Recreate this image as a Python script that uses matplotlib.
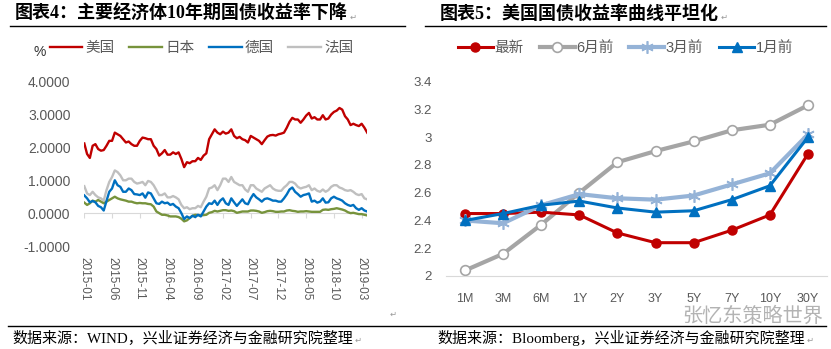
import numpy as np
import matplotlib
matplotlib.use('Agg')
import matplotlib.pyplot as plt
from matplotlib.lines import Line2D

plt.rcParams['font.family'] = ['Liberation Sans', 'Noto Sans CJK SC', 'DejaVu Sans']

# ---- left chart: 10y government bond yields, semi-monthly readings ----
date_labels = ['2015-01', '2015-06', '2015-11', '2016-04', '2016-09', '2017-02',
               '2017-07', '2017-12', '2018-05', '2018-10', '2019-03']

us = [2.12, 1.80, 1.68, 2.05, 2.10, 1.95, 1.90, 1.92, 2.05, 2.20, 2.20, 2.45,
      2.40, 2.35, 2.25, 2.15, 2.18, 2.10, 2.05, 2.05, 2.20, 2.30, 2.28, 2.25,
      2.25, 2.05, 1.95, 1.75, 1.82, 1.92, 1.78, 1.78, 1.85, 1.80, 1.85, 1.65,
      1.40, 1.55, 1.52, 1.58, 1.58, 1.68, 1.62, 1.75, 1.82, 2.25, 2.40, 2.55,
      2.45, 2.40, 2.48, 2.42, 2.45, 2.55, 2.35, 2.28, 2.32, 2.25, 2.22, 2.15,
      2.35, 2.30, 2.25, 2.20, 2.10, 2.22, 2.33, 2.37, 2.38, 2.36, 2.40, 2.42,
      2.45, 2.60, 2.78, 2.90, 2.85, 2.85, 2.75, 2.85, 2.97, 3.05, 2.88, 2.92,
      2.85, 2.85, 2.98, 2.85, 2.88, 3.00, 3.08, 3.12, 3.20, 3.15, 2.95, 2.85,
      2.68, 2.72, 2.68, 2.65, 2.72, 2.60, 2.45]

japan = [0.32, 0.25, 0.30, 0.38, 0.35, 0.40, 0.35, 0.30, 0.35, 0.40, 0.45, 0.50,
         0.45, 0.42, 0.40, 0.38, 0.35, 0.35, 0.32, 0.30, 0.31, 0.30, 0.30, 0.28,
         0.27, 0.20, 0.05, 0.00, -0.05, -0.05, -0.07, -0.10, -0.10, -0.10, -0.12, -0.17,
         -0.25, -0.22, -0.15, -0.08, -0.05, -0.06, -0.07, -0.06, -0.05, 0.01, 0.03, 0.07,
         0.05, 0.07, 0.09, 0.09, 0.07, 0.08, 0.06, 0.01, 0.03, 0.05, 0.05, 0.05,
         0.08, 0.08, 0.07, 0.05, 0.01, 0.03, 0.06, 0.07, 0.06, 0.04, 0.04, 0.05,
         0.05, 0.08, 0.09, 0.07, 0.06, 0.04, 0.05, 0.05, 0.06, 0.05, 0.04, 0.04,
         0.04, 0.04, 0.10, 0.11, 0.10, 0.12, 0.13, 0.15, 0.13, 0.11, 0.08, 0.03,
         0.00, 0.01, -0.01, -0.03, -0.03, -0.05, -0.07]

germany = [0.54, 0.45, 0.33, 0.37, 0.33, 0.22, 0.18, 0.08, 0.37, 0.65, 0.75, 1.00,
           0.85, 0.80, 0.65, 0.65, 0.75, 0.70, 0.58, 0.57, 0.55, 0.60, 0.47, 0.63,
           0.60, 0.45, 0.30, 0.28, 0.35, 0.30, 0.32, 0.25, 0.28, 0.20, 0.15, 0.00,
           -0.18, -0.10, -0.15, -0.08, -0.12, -0.05, -0.10, 0.05, 0.20, 0.30, 0.28, 0.38,
           0.25, 0.38, 0.45, 0.30, 0.25, 0.45, 0.33, 0.22, 0.32, 0.42, 0.30, 0.27,
           0.45, 0.58, 0.48, 0.42, 0.35, 0.43, 0.45, 0.42, 0.38, 0.38, 0.35, 0.35,
           0.45, 0.57, 0.72, 0.78, 0.65, 0.58, 0.50, 0.55, 0.57, 0.60, 0.35, 0.38,
           0.32, 0.35, 0.45, 0.32, 0.33, 0.45, 0.50, 0.45, 0.42, 0.38, 0.30, 0.25,
           0.22, 0.25, 0.15, 0.10, 0.15, 0.08, 0.05]

france = [0.82, 0.60, 0.55, 0.65, 0.55, 0.48, 0.45, 0.38, 0.70, 0.95, 1.10, 1.30,
          1.25, 1.15, 1.00, 1.00, 1.05, 1.05, 0.95, 0.90, 0.92, 0.95, 0.85, 0.98,
          0.95, 0.85, 0.70, 0.55, 0.55, 0.60, 0.48, 0.48, 0.52, 0.48, 0.42, 0.25,
          0.15, 0.18, 0.12, 0.15, 0.15, 0.22, 0.18, 0.35, 0.50, 0.75, 0.78, 0.85,
          0.70, 0.85, 1.05, 1.05, 0.95, 1.10, 0.95, 0.90, 0.85, 0.85, 0.72, 0.65,
          0.85, 0.85, 0.75, 0.70, 0.65, 0.75, 0.80, 0.85, 0.75, 0.70, 0.68, 0.68,
          0.78, 0.85, 0.95, 0.95, 0.90, 0.80, 0.75, 0.78, 0.80, 0.85, 0.70, 0.75,
          0.68, 0.65, 0.72, 0.65, 0.70, 0.80, 0.85, 0.85, 0.78, 0.75, 0.70, 0.68,
          0.70, 0.65, 0.58, 0.55, 0.58, 0.45, 0.42]

# ---- right chart: US treasury curve ----
tenors = ['1M', '3M', '6M', '1Y', '2Y', '3Y', '5Y', '7Y', '10Y', '30Y']
latest = [2.45, 2.45, 2.46, 2.44, 2.31, 2.24, 2.24, 2.33, 2.44, 2.88]
m6_ago = [2.04, 2.16, 2.37, 2.60, 2.82, 2.90, 2.97, 3.05, 3.09, 3.23]
m3_ago = [2.40, 2.38, 2.51, 2.59, 2.56, 2.55, 2.58, 2.66, 2.74, 3.02]
m1_ago = [2.40, 2.45, 2.51, 2.54, 2.49, 2.46, 2.47, 2.55, 2.65, 3.00]

W, H = 831, 349
fig = plt.figure(figsize=(W / 100, H / 100), dpi=100)


def fx(px):
    return px / W


def fy(px):
    return 1 - px / H


grey_txt = '#595959'

# ---------- left chart ----------
ax1 = fig.add_axes([fx(84.3), fy(246), fx(367.2 - 84.3), (246 - 81.7) / H])
x = np.arange(len(us))
ax1.plot(x, france, color='#BFBFBF', lw=1.7, label='法国', zorder=2)
ax1.plot(x, japan, color='#77933C', lw=1.7, label='日本', zorder=3)
ax1.plot(x, germany, color='#0070C0', lw=1.7, label='德国', zorder=4)
ax1.plot(x, us, color='#C00000', lw=1.7, label='美国', zorder=5)
ax1.set_xlim(0, len(us) - 1)
ax1.set_ylim(-1, 4)
xt = np.arange(0, len(date_labels) * 10, 10)
ax1.axhline(0, color='#D9D9D9', lw=0.8, zorder=1)
ax1.vlines(xt, -0.15, 0, color='#D9D9D9', lw=0.8, zorder=1)
ax1.set_xticks(xt)
ax1.set_xticklabels(date_labels, rotation=-90, fontsize=8.5, color=grey_txt)
ax1.set_yticks([-1, 0, 1, 2, 3, 4])
ax1.set_yticklabels(['%.4f' % v for v in [-1, 0, 1, 2, 3, 4]], fontsize=10, color=grey_txt)
ax1.tick_params(axis='both', length=0)
ax1.tick_params(axis='y', pad=10)
ax1.tick_params(axis='x', pad=8)
for s in ax1.spines.values():
    s.set_visible(False)

h, l = ax1.get_legend_handles_labels()
order = [3, 1, 2, 0]
fig.legend([h[i] for i in order], [l[i] for i in order], loc='center',
           bbox_to_anchor=(fx(201.5), fy(48)), ncol=4, frameon=False, fontsize=10.5,
           handlelength=2.25, handletextpad=0.2, columnspacing=1.0, borderpad=0,
           labelcolor=grey_txt)
fig.text(fx(40), fy(52), '%', ha='center', va='center', fontsize=10, color='#333333')

# ---------- right chart ----------
ax2 = fig.add_axes([fx(446), fy(276), fx(827 - 446), (276 - 81.7) / H])
xc = np.arange(len(tenors))
ax2.plot(xc, latest, color='#C00000', lw=2.2, marker='o', ms=6.5, label='最新', zorder=3)
ax2.plot(xc, m6_ago, color='#A5A5A5', lw=3, marker='o', ms=7, mfc='white',
         mec='#A5A5A5', mew=1.2, label='6月前', zorder=2)
ax2.plot(xc, m3_ago, color='#95B3D7', lw=3, marker=(6, 2, 0), ms=9, mew=1.2,
         label='3月前', zorder=4)
ax2.plot(xc, m1_ago, color='#0070C0', lw=2.2, marker='^', ms=7, label='1月前', zorder=5)
ax2.set_xlim(-0.5, len(tenors) - 0.5)
ax2.set_ylim(2, 3.4)
ax2.set_xticks(xc)
ax2.set_xticklabels(tenors, fontsize=9, color=grey_txt)
yt = [2, 2.2, 2.4, 2.6, 2.8, 3, 3.2, 3.4]
ax2.set_yticks(yt)
ax2.set_yticklabels(['%g' % v for v in yt], fontsize=9.5, color=grey_txt)
ax2.tick_params(axis='both', length=0)
ax2.tick_params(axis='y', pad=10)
ax2.tick_params(axis='x', pad=12)
for k, s in ax2.spines.items():
    s.set_visible(k == 'bottom')
ax2.spines['bottom'].set_color('#D9D9D9')

fig.legend(*ax2.get_legend_handles_labels(), loc='center',
           bbox_to_anchor=(fx(625.5), fy(48)), ncol=4, frameon=False, fontsize=10.5,
           handlelength=2.4, handletextpad=0.1, columnspacing=1.1, borderpad=0,
           labelcolor=grey_txt)

# ---------- titles, rules, sources ----------
title_font = ['Liberation Serif', 'Noto Sans CJK SC']
mark_font = ['DejaVu Sans']
t1 = fig.text(fx(15), fy(14), '图表4：主要经济体10年期国债收益率下降', fontsize=13,
              fontweight='bold', family=title_font, va='center', ha='left')
t2 = fig.text(fx(440), fy(14), '图表5：美国国债收益率曲线平坦化', fontsize=13,
              fontweight='bold', family=title_font, va='center', ha='left')
fig.add_artist(Line2D([fx(10), fx(405)], [fy(26), fy(26)], color='black', lw=1))
fig.add_artist(Line2D([fx(425), fx(826)], [fy(26), fy(26)], color='black', lw=1))
fig.add_artist(Line2D([fx(8), fx(826)], [fy(326), fy(326)], color='black', lw=1))

s1 = fig.text(fx(12), fy(338), '数据来源：WIND，兴业证券经济与金融研究院整理', fontsize=10.8,
              family=title_font, va='center', ha='left')
s2 = fig.text(fx(437), fy(338), '数据来源：Bloomberg，兴业证券经济与金融研究院整理', fontsize=10.8,
              family=title_font, va='center', ha='left')

# paragraph marks after text blocks
fig.canvas.draw()
rend = fig.canvas.get_renderer()
for t, dy in [(t1, 3), (t2, 3), (s1, 2), (s2, 2)]:
    bb = t.get_window_extent(rend)
    fig.text((bb.x1 + 2) / W, (bb.y0 + bb.y1) / 2 / H - dy / H, '\u21b5', fontsize=6,
             color='#999999', family=mark_font, va='center', ha='left')
fig.text(fx(390), fy(314), '\u21b5', fontsize=6, color='#999999', family=mark_font,
         va='center', ha='left')

fig.text(fx(682), fy(316), '张忆东策略世界', fontsize=14.5, color='#A0A0A0',
         family=['Noto Sans CJK SC'], va='center', ha='left', alpha=0.8)

plt.savefig('out.png', dpi=100)
